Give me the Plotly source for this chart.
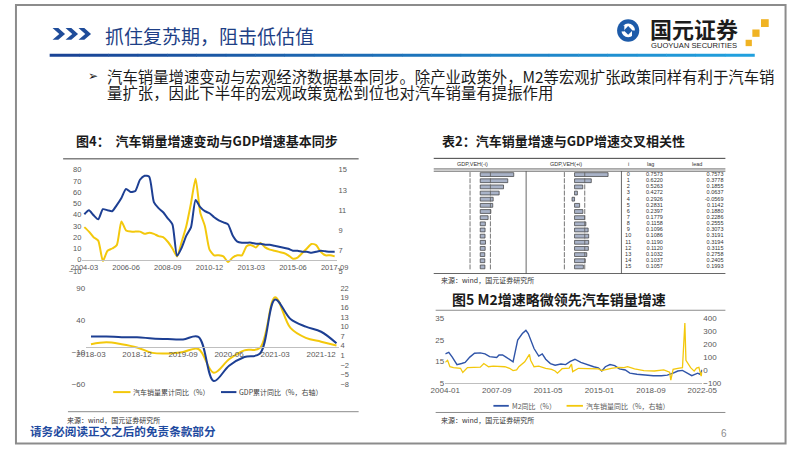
import plotly.graph_objects as go

W, H = 802, 451


def fx(p):
    return p / W


def fy(p):
    return 1 - p / H


CJK = "Noto Sans CJK SC"
LAT = "Liberation Sans"
TICK_GRAY = "#595959"
YEL = "#F3C80C"
NAVY = "#1D3F93"
BLUE5 = "#2F54A8"

# ---------------- data ----------------
# Fig.4 upper: quarterly 2004-03 .. 2017-09
top_quarters = [f"{y}-{m:02d}" for y in range(2004, 2018) for m in (3, 6, 9, 12)][:55]
top_ticks = ["2004-03", "2006-06", "2008-09", "2010-12", "2013-03", "2015-06", "2017-09"]
top_car_sales_yoy = [29, 25, 20, 17, -1, 8, 10, 13, 34, 26,
                     25, 25, 25, 23, 24, 23, 21, 20, 16, 10,
                     3, 16, 30, 50, 72, 42, 30, 9, 4, 4,
                     3, -2, 2, 4, 4, 12, 13, 11, 15, 11,
                     9, 8, 7, 6, 4, 1, 2, 6, 10, 14,
                     13, 7, 4, 4, 3]
top_gdp_yoy = [10.6, 11.0, 10.5, 10.1, 11.1, 11.0, 10.9, 11.5, 12.2, 13.1,
               12.8, 12.9, 14.0, 14.4, 14.3, 11.8, 11.2, 10.8, 10.2, 9.6,
               6.5, 7.3, 8.5, 9.3, 12.0, 11.3, 10.9, 10.7, 10.3, 10.0,
               9.8, 9.6, 8.5, 7.9, 7.8, 7.8, 7.8, 7.7, 7.7, 7.6,
               7.6, 7.5, 7.4, 7.3, 7.2, 7.0, 7.0, 6.9, 6.9, 6.8,
               6.9, 7.0, 6.95, 6.9, 6.9]

# Fig.4 lower: quarterly 2018-03 .. 2022-03
bot_quarters = [f"{y}-{m:02d}" for y in range(2018, 2023) for m in (3, 6, 9, 12)][:17]
bot_ticks = ["2018-03", "2018-12", "2019-09", "2020-06", "2021-03", "2021-12"]
bot_car_sales_cum = [2.5, 5.5, 2.5, -2.5, -11, -12, -9.5, -5, -42, -21, -7, -3.5, 76, 28, 12.5, 6.5, 0.5]
bot_gdp_cum = [6.9, 6.9, 6.7, 6.7, 6.3, 6.1, 6.0, 6.8, -7.0, -2.2, 0.5, 1.5, 18.5, 12.4, 10.0, 8.4, 4.8]
bot_names = ["汽车销量累计同比（%）", "GDP累计同比（%，右轴）"]

# Table 2: cross correlation
lag_i = list(range(16))
corr_lag = [0.7573, 0.6220, 0.5263, 0.4272, 0.2926, 0.2831, 0.2397, 0.1779,
            0.1158, 0.1096, 0.1086, 0.1190, 0.1120, 0.1032, 0.1037, 0.1057]
corr_lead = [0.7573, 0.3778, 0.1855, 0.0637, -0.0569, 0.1142, 0.1880, 0.2286,
             0.2555, 0.3073, 0.3191, 0.3194, 0.3115, 0.2758, 0.2405, 0.1993]
band = 0.23
table_headers = ["GDP,VEH(-i)", "GDP,VEH(+i)", "i", "lag", "lead"]

# Fig.5: monthly M2 yoy and car sales yoy
m2_months = ["2004-01", "2004-04", "2004-07", "2004-11", "2005-03", "2005-06", "2005-10",
             "2006-02", "2006-07", "2006-11", "2007-03", "2007-06", "2007-09", "2007-11",
             "2008-02", "2008-05", "2008-08", "2008-11", "2009-03", "2009-07", "2009-10",
             "2009-12", "2010-05", "2010-09", "2010-12", "2011-03", "2011-07", "2011-11",
             "2012-04", "2012-08", "2012-12", "2013-04", "2013-09", "2014-02", "2014-08",
             "2014-12", "2015-03", "2015-06", "2015-10", "2016-02", "2016-06", "2016-11",
             "2017-03", "2017-09", "2018-04", "2018-11", "2019-06", "2019-11", "2020-04",
             "2020-08", "2020-12", "2021-04", "2021-08", "2022-01", "2022-03", "2022-05"]
m2_yoy = [18.5, 19.2, 17.0, 13.5, 14.0, 14.5, 17.0,
          18.8, 19.0, 18.5, 17.2, 17.0, 16.8, 18.0,
          18.0, 17.0, 16.0, 14.8, 25.0, 28.0, 29.5,
          28.0, 21.0, 17.5, 18.5, 16.0, 14.0, 13.2,
          13.8, 13.5, 15.0, 16.0, 14.5, 13.5, 12.5,
          12.0, 10.5, 12.5, 13.5, 13.0, 11.5, 11.0,
          9.5, 9.0, 8.5, 8.3, 8.3, 8.6, 9.5,
          10.5, 10.8, 9.5, 8.3, 9.5, 9.0, 11.0]
sales_months = ["2004-01", "2004-03", "2004-05", "2004-08", "2005-02", "2005-03", "2005-04",
                "2005-08", "2006-02", "2006-07", "2006-10", "2007-02", "2007-06", "2007-11",
                "2008-04", "2008-08", "2008-11", "2009-02", "2009-04", "2009-09", "2009-11",
                "2010-01", "2010-02", "2010-05", "2010-09", "2011-03", "2011-08", "2011-11",
                "2012-01", "2012-05", "2012-11", "2013-01", "2013-02", "2013-07", "2014-03",
                "2014-12", "2015-03", "2015-05", "2015-11", "2016-05", "2016-10", "2017-01",
                "2017-07", "2018-03", "2018-12", "2019-08", "2020-01", "2020-02", "2020-04",
                "2020-08", "2020-12", "2021-02", "2021-03", "2021-07", "2021-10", "2021-12",
                "2022-02", "2022-04", "2022-05"]
sales_yoy = [60, 75, 25, 18, 13, 0, -20,
             18, 20, 22, 50, 25, 30, 30,
             25, 13, -5, 0, 25, 64, 90,
             122, 76, 25, 30, 13, 5, -8,
             -25, 10, 15, 45, -13, 13, 10,
             8, -5, 0, 13, 20, 18, 25,
             8, -5, -8, 0, -18, -79, 5,
             13, 18, 365, 75, 18, -9, 15,
             20, -48, -13]
fig5_ticks = ["2004-01", "2007-09", "2011-05", "2015-01", "2018-09", "2022-05"]
fig5_names = ["M2同比（%）", "汽车销量同比（%，右轴）"]

# ---------------- traces ----------------
fig = go.Figure()
fig.add_trace(go.Scatter(x=top_quarters, y=top_car_sales_yoy, xaxis="x", yaxis="y", mode="lines",
                         line=dict(color=YEL, width=2, shape="spline", smoothing=0.6), hoverinfo="skip"))
fig.add_trace(go.Scatter(x=top_quarters, y=top_gdp_yoy, xaxis="x", yaxis="y2", mode="lines",
                         line=dict(color=NAVY, width=2, shape="spline", smoothing=0.6), hoverinfo="skip"))
fig.add_trace(go.Scatter(x=bot_quarters, y=bot_car_sales_cum, xaxis="x2", yaxis="y3", mode="lines",
                         line=dict(color=YEL, width=2, shape="spline", smoothing=1.0), hoverinfo="skip"))
fig.add_trace(go.Scatter(x=bot_quarters, y=bot_gdp_cum, xaxis="x2", yaxis="y4", mode="lines",
                         line=dict(color=NAVY, width=2, shape="spline", smoothing=1.0), hoverinfo="skip"))
fig.add_trace(go.Scatter(x=m2_months, y=m2_yoy, xaxis="x3", yaxis="y5", mode="lines",
                         line=dict(color=BLUE5, width=1.4), hoverinfo="skip"))
fig.add_trace(go.Scatter(x=sales_months, y=sales_yoy, xaxis="x3", yaxis="y6", mode="lines",
                         line=dict(color=YEL, width=1.3), hoverinfo="skip"))

# table bars
BAR_FILL = "#A9B3C8"
fig.add_trace(go.Bar(x=corr_lag, y=lag_i, orientation="h", xaxis="x4", yaxis="y7", width=0.62,
                     marker=dict(color=BAR_FILL, line=dict(color="#3a3a3a", width=0.7)), hoverinfo="skip"))
fig.add_trace(go.Bar(x=corr_lead, y=lag_i, orientation="h", xaxis="x5", yaxis="y7", width=0.62,
                     marker=dict(color=BAR_FILL, line=dict(color="#3a3a3a", width=0.7)), hoverinfo="skip"))
for xa in ("x4", "x5"):
    fig.add_trace(go.Scatter(x=[-band] * 16 + [band] * 16, y=lag_i + lag_i, xaxis=xa, yaxis="y7",
                             mode="markers", hoverinfo="skip",
                             marker=dict(symbol="line-ns", size=3.5, line=dict(color="#666", width=0.9))))
fig.add_trace(go.Scatter(x=[637] * 16, y=lag_i, text=[str(i) for i in lag_i], xaxis="x6", yaxis="y7",
                         mode="text", textposition="middle center", hoverinfo="skip",
                         textfont=dict(size=5.5, color="#333", family=LAT)))
fig.add_trace(go.Scatter(x=[673] * 16, y=lag_i, text=[f"{v:.4f}" for v in corr_lag], xaxis="x6", yaxis="y7",
                         mode="text", textposition="middle left", hoverinfo="skip",
                         textfont=dict(size=5.5, color="#333", family=LAT)))
fig.add_trace(go.Scatter(x=[736] * 16, y=lag_i, text=[f"{v:.4f}" for v in corr_lead], xaxis="x6", yaxis="y7",
                         mode="text", textposition="middle left", hoverinfo="skip",
                         textfont=dict(size=5.5, color="#333", family=LAT)))

# ---------------- axes ----------------
tf = dict(size=7.5, color=TICK_GRAY, family=LAT)
tf8 = dict(size=8, color=TICK_GRAY, family=LAT)
noaxis = dict(visible=False, fixedrange=True)

layout = dict(
    width=W, height=H, autosize=False,
    margin=dict(l=0, r=0, t=0, b=0),
    paper_bgcolor="white", plot_bgcolor="rgba(0,0,0,0)",
    showlegend=False, barmode="overlay",
    # top chart
    xaxis=dict(domain=[fx(70), fx(335)], type="category", range=[-0.42, 54.6], anchor="free",
               position=fy(261), tickmode="array", tickvals=top_ticks, ticktext=top_ticks,
               showline=True, linecolor="#BFBFBF", linewidth=1, ticks="", showgrid=False,
               zeroline=False, tickfont=tf, tickangle=0),
    yaxis=dict(domain=[fy(272.5), fy(169)], range=[-10, 80], tick0=0, dtick=10, anchor="x",
               showgrid=False, zeroline=False, showline=False, ticks="", tickfont=tf),
    yaxis2=dict(overlaying="y", side="right", range=[5, 15], tick0=5, dtick=2, anchor="x",
                showgrid=False, zeroline=False, showline=False, ticks="", tickfont=tf),
    # bottom chart
    xaxis2=dict(domain=[fx(74), fx(337)], type="category", range=[-0.31, 16.19], anchor="free",
                position=fy(349.5), tickmode="array", tickvals=bot_ticks, ticktext=bot_ticks,
                showline=True, linecolor="#BFBFBF", linewidth=1, ticks="", showgrid=False,
                zeroline=False, tickfont=tf8, tickangle=0),
    yaxis3=dict(domain=[fy(388), fy(290)], range=[-60, 90], tick0=-60, dtick=50, anchor="x2",
                showgrid=False, zeroline=False, showline=False, ticks="", tickfont=tf8),
    yaxis4=dict(overlaying="y3", side="right", range=[-8, 22], tick0=-8, dtick=3, anchor="x2",
                showgrid=False, zeroline=False, showline=False, ticks="", tickfont=tf),
    # fig 5
    xaxis3=dict(domain=[fx(447), fx(714)], type="date", range=["2004-01-01", "2022-05-01"], anchor="y5",
                tickmode="array", tickvals=[t + "-01" for t in fig5_ticks], ticktext=fig5_ticks,
                showline=True, linecolor="#BFBFBF", linewidth=1, ticks="", showgrid=False,
                zeroline=False, tickfont=tf8, tickangle=0),
    yaxis5=dict(domain=[fy(386.5), fy(321)], range=[5, 35], tick0=5, dtick=10, anchor="x3",
                showgrid=False, zeroline=False, showline=False, ticks="", tickfont=tf8),
    yaxis6=dict(overlaying="y5", side="right", range=[-100, 400], tick0=-100, dtick=100, anchor="x3",
                showgrid=False, zeroline=False, showline=False, ticks="", tickfont=tf8),
    # table
    xaxis4=dict(domain=[fx(436), fx(531)], range=[(436 - 483.3) / 46, (531 - 483.3) / 46], anchor="y7", **noaxis),
    xaxis5=dict(domain=[fx(531), fx(630)], range=[(531 - 581.3) / 46, (630 - 581.3) / 46], anchor="y7", **noaxis),
    xaxis6=dict(domain=[fx(630), fx(740)], range=[630, 740], anchor="y7", **noaxis),
    yaxis7=dict(domain=[fy(271.4), fy(170.9)], range=[15.5, -0.5], anchor="x4", **noaxis),
)
fig.update_layout(**layout)

# ---------------- decorations ----------------
shapes = []
annos = []


def hline(x0, x1, y, color="#404040", width=1):
    shapes.append(dict(type="line", xref="paper", yref="paper", x0=fx(x0), x1=fx(x1), y0=fy(y), y1=fy(y),
                       line=dict(color=color, width=width)))


def vline(x, y0, y1, color="#404040", width=1):
    shapes.append(dict(type="line", xref="paper", yref="paper", x0=fx(x), x1=fx(x), y0=fy(y0), y1=fy(y1),
                       line=dict(color=color, width=width)))


def text(x, y, s, size, color="#1a1a1a", family=CJK, anchor="left", bold=False):
    if bold:
        s = f"<b>{s}</b>"
    annos.append(dict(xref="paper", yref="paper", x=fx(x), y=fy(y), text=s, showarrow=False,
                      xanchor=anchor, yanchor="middle", font=dict(size=size, color=color, family=family)))


# slide border
shapes.append(dict(type="rect", xref="paper", yref="paper", x0=fx(1), x1=fx(800.5), y0=fy(1), y1=fy(448.5),
                   line=dict(color="#8C8C8C", width=2)))

# header chevrons
for x0 in (39, 52.5, 66):
    pts = [(x0, 24.5), (x0 + 6, 24.5), (x0 + 13, 30.5), (x0 + 6, 36.5), (x0, 36.5), (x0 + 7, 30.5)]
    path = "M " + " L ".join(f"{fx(a)},{fy(b)}" for a, b in pts) + " Z"
    shapes.append(dict(type="path", xref="paper", yref="paper", path=path, fillcolor="#1F4C9A",
                       line=dict(width=0)))
text(91, 32, "抓住复苏期，阻击低估值", 19, color="#1E3F86")

# gradient header rule
n = 24
x_start, x_end = 36, 768
c0, c1 = (26, 68, 150), (33, 160, 222)
for k in range(n):
    t = k / (n - 1)
    col = "rgb({},{},{})".format(*[int(c0[j] + (c1[j] - c0[j]) * t) for j in range(3)])
    a = x_start + (x_end - x_start) * k / n
    b = x_start + (x_end - x_start) * (k + 1) / n + 0.5
    hline(a, b, 52.3, color=col, width=3)

# logo
shapes.append(dict(type="circle", xref="paper", yref="paper", x0=fx(625.5), x1=fx(648.5), y0=fy(38.5),
                   y1=fy(15.5), fillcolor="#1D5BA9", line=dict(width=0)))
shapes.append(dict(type="circle", xref="paper", yref="paper", x0=fx(630), x1=fx(644), y0=fy(34),
                   y1=fy(20), fillcolor="white", line=dict(width=0)))
dpts = [(637, 22.5), (641.5, 27), (637, 31.5), (632.5, 27)]
shapes.append(dict(type="path", xref="paper", yref="paper",
                   path="M " + " L ".join(f"{fx(a)},{fy(b)}" for a, b in dpts) + " Z",
                   fillcolor="#1D5BA9", line=dict(width=0)))
shapes.append(dict(type="rect", xref="paper", yref="paper", x0=fx(628), x1=fx(633), y0=fy(28), y1=fy(22),
                   fillcolor="#1D5BA9", line=dict(width=0)))
shapes.append(dict(type="rect", xref="paper", yref="paper", x0=fx(641), x1=fx(646), y0=fy(33), y1=fy(27),
                   fillcolor="#1D5BA9", line=dict(width=0)))
text(705, 24, "国元证券", 22, color="#1c1c1c", anchor="center", bold=True)
text(705, 42, "GUOYUAN SECURITIES", 7.6, color="#1c1c1c", family=LAT, anchor="center")
for (a, b, s) in [(775, 15.5, 8), (766, 26, 7.5), (759, 36.5, 6.5)]:
    shapes.append(dict(type="rect", xref="paper", yref="paper", x0=fx(a), x1=fx(a + s), y0=fy(b + s),
                       y1=fy(b), fillcolor="#F0B323", line=dict(width=0)))

# bullet text
text(74, 73, "➢", 12, color="#1a1a1a", family="DejaVu Sans")
text(93, 73, "汽车销量增速变动与宏观经济数据基本同步。除产业政策外，M2等宏观扩张政策同样有利于汽车销", 15.4)
text(93, 90, "量扩张，因此下半年的宏观政策宽松到位也对汽车销量有提振作用", 15.4)

# fig 4 frame
text(61, 139, "图4：  汽车销量增速变动与GDP增速基本同步", 13, bold=True)
hline(50, 357, 158, color="#404040", width=1)
hline(55, 357, 416, color="#8C8C8C", width=1)
text(52, 424.5, "来源：wind，国元证券研究所", 7, color="#333")
# fig 4 lower legend
shapes.append(dict(type="line", xref="paper", yref="paper", x0=fx(102), x1=fx(120), y0=fy(396), y1=fy(396),
                   line=dict(color=YEL, width=2)))
text(121, 396, bot_names[0], 7, color="#404040")
shapes.append(dict(type="line", xref="paper", yref="paper", x0=fx(214), x1=fx(230), y0=fy(396), y1=fy(396),
                   line=dict(color=NAVY, width=2)))
text(231, 396, bot_names[1], 7, color="#404040")

# table 2 frame
text(442, 139, "表2：汽车销量增速与GDP增速交叉相关性", 13, bold=True)
hline(435, 738, 157.5, color="#404040", width=1)
hline(435, 738, 168.3, color="#404040", width=0.8)
hline(435, 738, 170.6, color="#404040", width=0.8)
hline(435, 738, 275, color="#404040", width=0.8)
vline(531, 170.6, 275, color="#404040", width=0.8)
vline(630, 170.6, 275, color="#404040", width=0.8)
for (xc, s) in zip([475, 572, 637, 660, 708], table_headers):
    text(xc, 163.3, s, 5.5, color="#333", family=LAT, anchor="center")
text(440, 281.5, "来源：wind，国元证券研究所", 7, color="#333")

# fig 5 frame
text(452, 301.5, "图5 M2增速略微领先汽车销量增速", 14, bold=True)
hline(437, 738, 312.5, color="#8C8C8C", width=1)
shapes.append(dict(type="line", xref="paper", yref="paper", x0=fx(497), x1=fx(513), y0=fy(410), y1=fy(410),
                   line=dict(color=BLUE5, width=1.8)))
text(514, 410, fig5_names[0], 7, color="#595959")
shapes.append(dict(type="line", xref="paper", yref="paper", x0=fx(573), x1=fx(590), y0=fy(410), y1=fy(410),
                   line=dict(color=YEL, width=1.8)))
text(591, 410, fig5_names[1], 7, color="#595959")
hline(437, 738, 416.8, color="#8C8C8C", width=1)
text(440, 424.5, "来源：wind，国元证券研究所", 7, color="#333")

# footer
text(13, 436, "请务必阅读正文之后的免责条款部分", 11.6, color="#1F4BA0", bold=True)
text(737, 438, "6", 10, color="#8C8C8C", family=LAT, anchor="center")

fig.update_layout(shapes=shapes, annotations=annos)

fig.write_html("out.html", config={"displayModeBar": False, "staticPlot": True},
               post_script="document.body.style.margin='0';document.body.style.overflow='hidden';")
